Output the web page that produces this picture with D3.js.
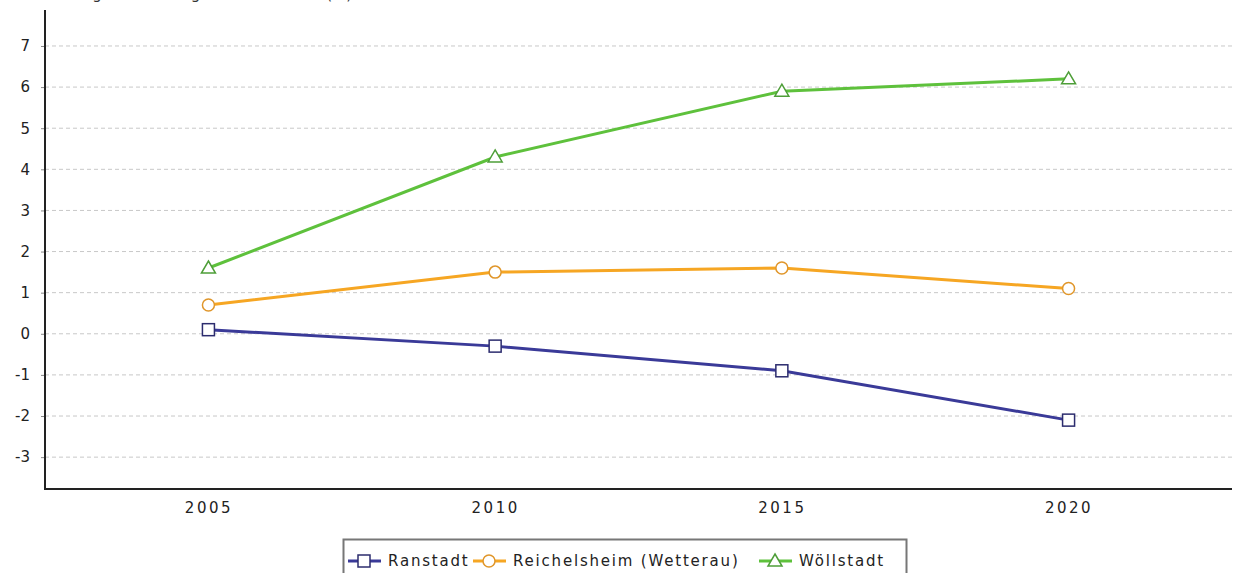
<!DOCTYPE html>
<html>
<head>
<meta charset="utf-8">
<script src="https://cdn.jsdelivr.net/npm/d3@7"></script>
<style>
  body { margin: 0; background: #fff; }
  svg { display: block; font-family: "DejaVu Sans", sans-serif; }
</style>
</head>
<body>
<div id="chart"></div>
<script>
const years = ['2005', '2010', '2015', '2020'];
const seriesNames = ['Ranstadt', 'Reichelsheim (Wetterau)', 'Wöllstadt'];
const ranstadt = [0.1, -0.3, -0.9, -2.1];
const reichelsheim = [0.7, 1.5, 1.6, 1.1];
const woellstadt = [1.6, 4.3, 5.9, 6.2];
const yTicks = [-3, -2, -1, 0, 1, 2, 3, 4, 5, 6, 7];
const title = 'Bevölkerungsentwicklung der Gemeinden (%)';

const W = 1234, H = 573;
const plotLeft = 45, plotRight = 1232, plotTop = 10, plotBottom = 489;

const series = [
    { name: seriesNames[0], values: ranstadt, color: '#3a3a98', stroke: '#2c2c6e', shape: 'square' },
    { name: seriesNames[1], values: reichelsheim, color: '#f6a623', stroke: '#e0962a', shape: 'circle' },
    { name: seriesNames[2], values: woellstadt, color: '#5ec13c', stroke: '#4e9e38', shape: 'triangle' }
];

const svg = d3.select('#chart')
    .append('svg')
    .attr('width', W)
    .attr('height', H);

// title, mostly cut off at the top of the picture as in the source
svg.append('text')
    .attr('x', 8)
    .attr('y', -1)
    .attr('font-size', 15)
    .attr('fill', '#333')
    .text(title);

const x = d3.scalePoint()
    .domain(years)
    .range([plotLeft, plotRight])
    .padding(0.57);

const y = d3.scaleLinear()
    .domain([-3.775, 7.875])
    .range([plotBottom, plotTop]);

// grid lines
svg.append('g')
    .selectAll('line')
    .data(yTicks)
    .enter()
    .append('line')
    .attr('x1', plotLeft)
    .attr('x2', plotRight)
    .attr('y1', d => y(d))
    .attr('y2', d => y(d))
    .attr('stroke', '#c8c8c8')
    .attr('stroke-width', 1)
    .attr('stroke-dasharray', '4,3');

// y axis
const yAxis = svg.append('g')
    .attr('transform', `translate(${plotLeft},0)`)
    .call(d3.axisLeft(y).tickValues(yTicks).tickSize(4).tickPadding(11).tickFormat(d => String(d)));
yAxis.select('.domain').remove();
yAxis.selectAll('.tick line').attr('stroke', '#888');
yAxis.selectAll('.tick text')
    .attr('font-size', 15)
    .attr('font-family', '"DejaVu Sans", sans-serif')
    .attr('fill', '#222');

// x axis
const xAxis = svg.append('g')
    .attr('transform', `translate(0,${plotBottom})`)
    .call(d3.axisBottom(x).tickSize(0).tickPadding(13));
xAxis.select('.domain').remove();
xAxis.selectAll('.tick text')
    .attr('font-size', 15)
    .attr('letter-spacing', 2.5)
    .attr('font-family', '"DejaVu Sans", sans-serif')
    .attr('fill', '#222');

svg.append('line')
    .attr('x1', plotLeft).attr('x2', plotLeft)
    .attr('y1', plotTop).attr('y2', plotBottom)
    .attr('stroke', '#222').attr('stroke-width', 2);
svg.append('line')
    .attr('x1', plotLeft - 1).attr('x2', plotRight)
    .attr('y1', plotBottom).attr('y2', plotBottom)
    .attr('stroke', '#222').attr('stroke-width', 2);

function drawMarker(g, shape, cx, cy, stroke) {
    if (shape === 'square') {
        g.append('rect')
            .attr('x', cx - 6).attr('y', cy - 6)
            .attr('width', 12).attr('height', 12)
            .attr('fill', '#fff').attr('stroke', stroke).attr('stroke-width', 1.5);
    } else if (shape === 'circle') {
        g.append('circle')
            .attr('cx', cx).attr('cy', cy).attr('r', 6)
            .attr('fill', '#fff').attr('stroke', stroke).attr('stroke-width', 1.5);
    } else {
        g.append('path')
            .attr('d', `M${cx},${cy - 7}L${cx + 7},${cy + 5}L${cx - 7},${cy + 5}Z`)
            .attr('fill', '#fff').attr('stroke', stroke).attr('stroke-width', 1.5);
    }
}

const line = d3.line()
    .x((d, i) => x(years[i]))
    .y(d => y(d));

series.forEach(s => {
    const g = svg.append('g');
    g.append('path')
        .datum(s.values)
        .attr('d', line)
        .attr('fill', 'none')
        .attr('stroke', s.color)
        .attr('stroke-width', 3);
    s.values.forEach((v, i) => drawMarker(g, s.shape, x(years[i]), y(v), s.stroke));
});

// legend
const legend = svg.append('g');
legend.append('rect')
    .attr('x', 343.5).attr('y', 539.5)
    .attr('width', 563).attr('height', 40)
    .attr('fill', '#fff')
    .attr('stroke', '#777')
    .attr('stroke-width', 2);

const legendX = [348, 473, 759];
series.forEach((s, i) => {
    const lx = legendX[i], ly = 561;
    legend.append('line')
        .attr('x1', lx).attr('x2', lx + 33)
        .attr('y1', ly).attr('y2', ly)
        .attr('stroke', s.color).attr('stroke-width', 3);
    drawMarker(legend, s.shape, lx + 16, ly, s.stroke);
    legend.append('text')
        .attr('x', lx + 40)
        .attr('y', ly + 5)
        .attr('font-size', 15)
        .attr('letter-spacing', 1.8)
        .attr('fill', '#222')
        .text(s.name);
});
</script>
</body>
</html>
